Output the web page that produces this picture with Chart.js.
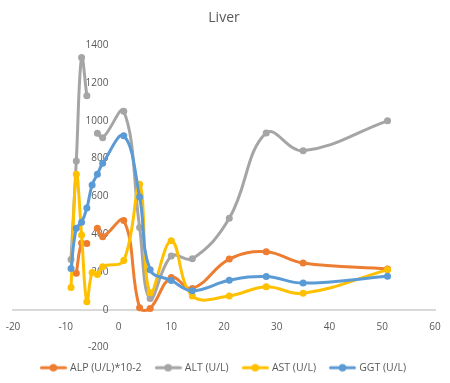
<!DOCTYPE html>
<html>
<head>
<meta charset="utf-8">
<script src="https://cdn.jsdelivr.net/npm/chart.js@4/dist/chart.umd.min.js"></script>
<style>
  html, body { margin: 0; padding: 0; background: #ffffff; }
  #wrap { width: 450px; height: 383px; position: relative; }
</style>
</head>
<body>
<div id="wrap"><canvas id="c" width="450" height="383"></canvas></div>
<script>
const title = "Liver";
const xValues = [-9, -8, -7, -6, -5, -4, -3, 1, 4, 6, 10, 14, 21, 28, 35, 51];
const seriesNames = ["ALP (U/L)*10-2", "ALT (U/L)", "AST (U/L)", "GGT (U/L)"];
const alp = [null, 193, 353, 350, null, 431, 387, 472, 10, 7, 170, 112, 268, 307, 247, 216];
const alt = [266, 787, 1335, 1133, null, 935, 910, 1051, 436, 59, 284, 270, 484, 936, 842, 1000];
const ast = [118, 717, 395, 42, 197, 186, 228, 261, 664, 90, 365, 73, 73, 122, 87, 211];
const ggt = [218, 431, 463, 538, 661, 717, 775, 921, 597, 211, 155, 101, 156, 176, 141, 177];
const xTicks = [-20, -10, 0, 10, 20, 30, 40, 50, 60];
const yTicks = [-200, 0, 200, 400, 600, 800, 1000, 1200, 1400];

const colors = ["#ED7D31", "#A5A5A5", "#FFC000", "#5B9BD5"];
const seriesValues = [alp, alt, ast, ggt];

function toPoints(vals) {
  return xValues.map((x, i) => ({ x: x, y: vals[i] }));
}

function legendMarker(color) {
  const c = document.createElement('canvas');
  c.width = 27; c.height = 10;
  const g = c.getContext('2d');
  g.strokeStyle = color; g.lineWidth = 3; g.lineCap = 'round';
  g.beginPath(); g.moveTo(1.5, 5); g.lineTo(25.5, 5); g.stroke();
  g.fillStyle = color;
  g.beginPath(); g.arc(13.5, 5, 3.8, 0, Math.PI * 2); g.fill();
  return c;
}

const datasets = seriesNames.map((name, i) => ({
  label: name,
  data: toPoints(seriesValues[i]),
  borderColor: colors[i],
  backgroundColor: colors[i],
  borderWidth: 3,
  pointRadius: 3.5,
  pointHoverRadius: 3.5,
  pointBorderWidth: 0,
  showLine: true,
  tension: 0.4,
  spanGaps: false,
  order: 3 - i
}));

const FONT = "'Open Sans', 'Liberation Sans', sans-serif";
const TXT = "#595959";

new Chart(document.getElementById('c'), {
  type: 'scatter',
  data: { datasets: datasets },
  options: {
    responsive: false,
    animation: false,
    devicePixelRatio: 1,
    layout: { padding: { left: 13, right: 15, top: 0, bottom: 0 } },
    plugins: {
      title: {
        display: true,
        text: title,
        color: TXT,
        font: { family: FONT, size: 14, weight: 'normal' },
        padding: { top: 10, bottom: 18.5 }
      },
      legend: {
        position: 'bottom',
        labels: {
          color: TXT,
          font: { family: FONT, size: 10.5 },
          usePointStyle: true,
          pointStyleWidth: 23,
          padding: 15,
          sort: (a, b) => a.datasetIndex - b.datasetIndex,
          generateLabels: function(chart) {
            const items = Chart.defaults.plugins.legend.labels.generateLabels(chart);
            items.forEach((it) => { it.pointStyle = legendMarker(colors[it.datasetIndex]); });
            return items;
          }
        }
      },
      tooltip: { enabled: false }
    },
    scales: {
      x: {
        type: 'linear',
        position: { y: 0 },
        min: -20, max: 60,
        afterBuildTicks: (s) => { s.ticks = xTicks.map(v => ({ value: v })); },
        afterFit: (s) => { s.paddingLeft = 0; s.paddingRight = 0; },
        grid: { display: false, drawTicks: false },
        border: { display: true, color: '#D9D9D9', width: 2 },
        ticks: { color: TXT, font: { family: FONT, size: 10 }, padding: 11, maxRotation: 0 }
      },
      y: {
        type: 'linear',
        position: { x: -1.9 },
        min: -200, max: 1400,
        afterBuildTicks: (s) => { s.ticks = yTicks.map(v => ({ value: v })); },
        afterFit: (s) => { s.paddingLeft = 0; s.paddingRight = 0; },
        grid: { display: false, drawTicks: false },
        border: { display: false },
        ticks: { color: TXT, font: { family: FONT, size: 10 }, padding: 10, callback: (v) => String(v) }
      }
    }
  }
});
</script>
</body>
</html>
